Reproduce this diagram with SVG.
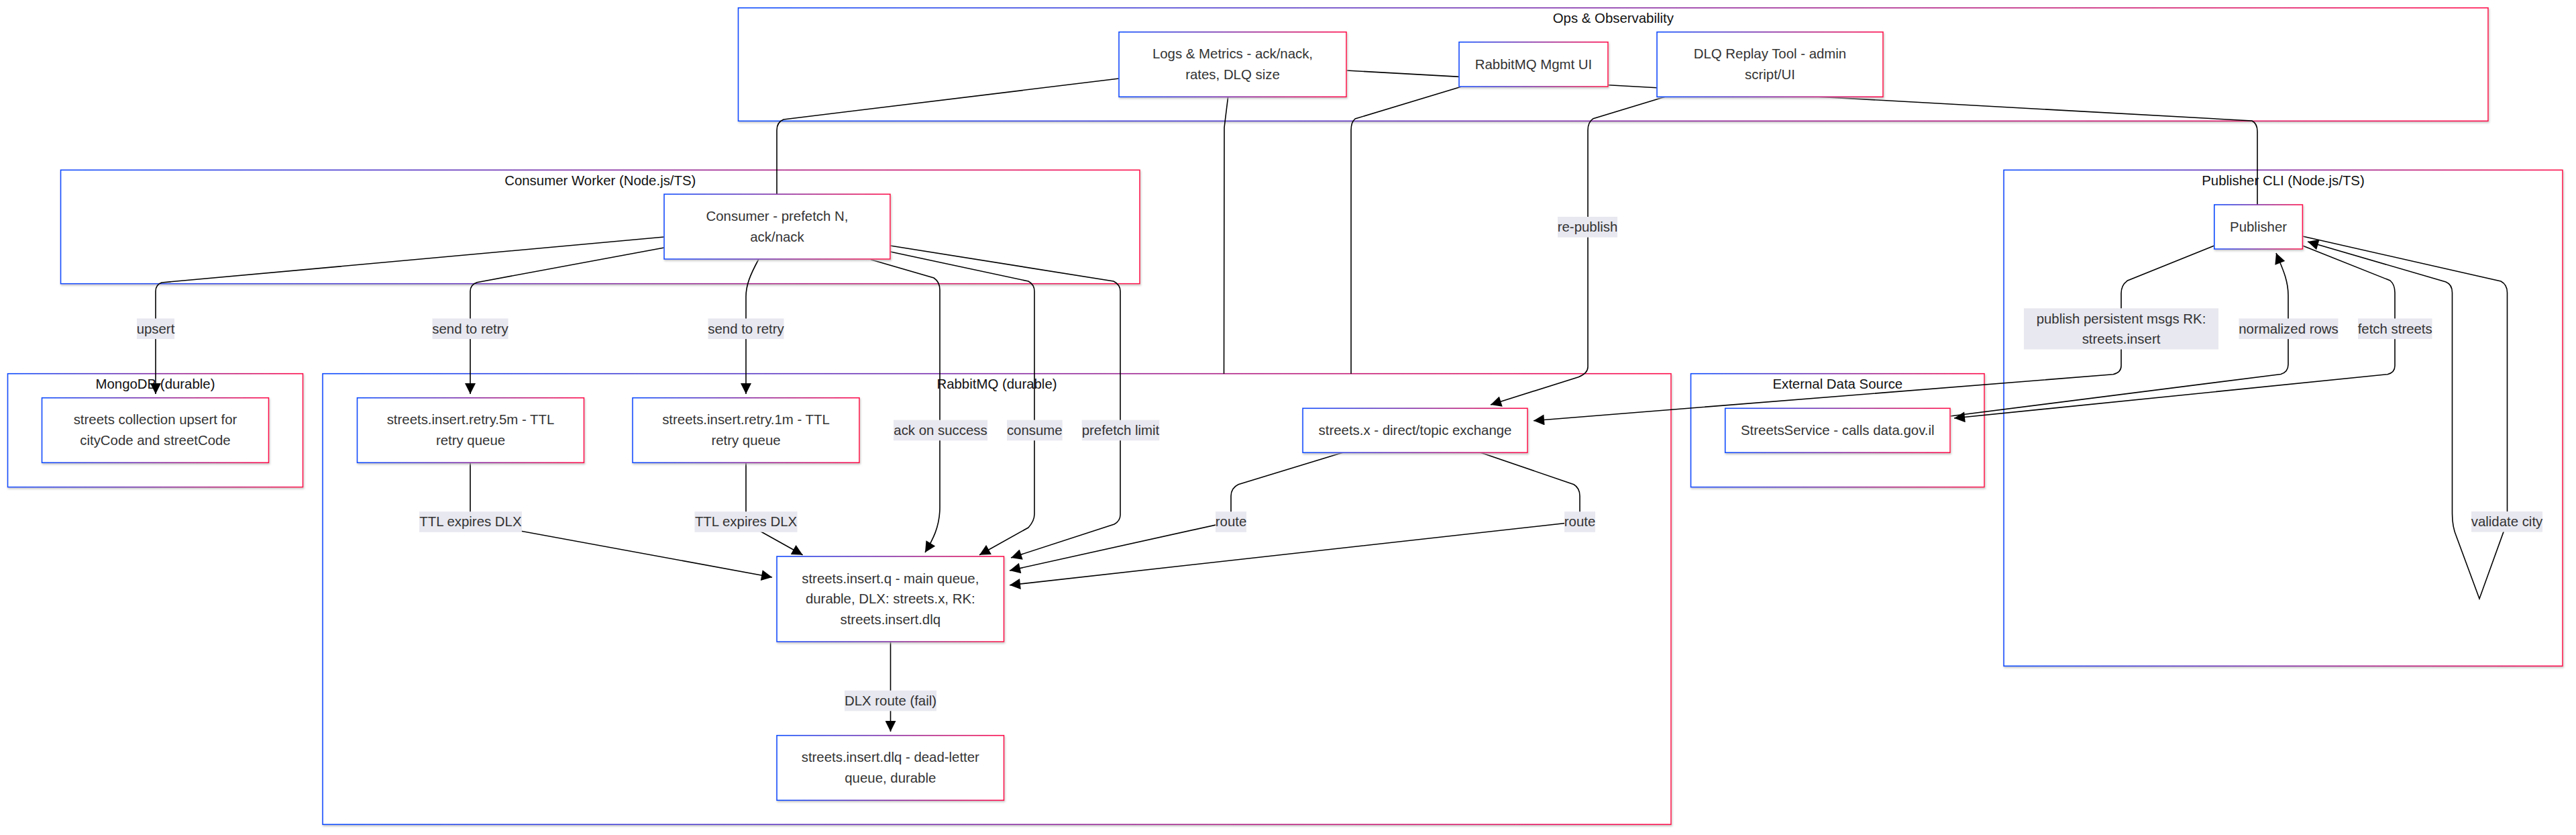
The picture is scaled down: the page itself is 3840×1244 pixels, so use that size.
<svg xmlns="http://www.w3.org/2000/svg" width="3840" height="1244" viewBox="0 0 3840 1244">
<defs>
<linearGradient id="g" x1="0" y1="0" x2="1" y2="0">
<stop offset="0" stop-color="#0a4cff"/>
<stop offset="1" stop-color="#ff0a4c"/>
</linearGradient>
<filter id="sh" x="-5%" y="-5%" width="110%" height="120%">
<feDropShadow dx="1" dy="2" stdDeviation="1.5" flood-color="#b9b9b9" flood-opacity="0.8"/>
</filter>
<marker id="ah" viewBox="0 0 10 10" refX="10" refY="5" markerUnits="userSpaceOnUse" markerWidth="17" markerHeight="16" orient="auto">
<path d="M0,0 L10,5 L0,10 z" fill="#000"/>
</marker>
<style>
text{font-family:"Liberation Sans",Arial,sans-serif;font-size:20.4px;text-anchor:middle}
.cluster rect{fill:#fff;stroke:url(#g);stroke-width:1.6;filter:url(#sh)}
.cluster text{fill:#111}
.node rect{fill:#fff;stroke:url(#g);stroke-width:1.6;filter:url(#sh)}
.node text{fill:#333}
.e{fill:none;stroke:#000;stroke-width:1.6}
.a{marker-end:url(#ah)}
.lbl rect{fill:#e8e8f0}
.lbl text{fill:#333}
</style>
</defs>

<g id="clusters">
<g id="cluster-ops" class="cluster"><rect x="1100.5" y="11.7" width="2608.5" height="168.6"/><text x="2404.8" y="34.4">Ops &amp; Observability</text></g>
<g id="cluster-consumer-worker" class="cluster"><rect x="90.5" y="253.3" width="1608.5" height="169.4"/><text x="894.8" y="276">Consumer Worker (Node.js/TS)</text></g>
<g id="cluster-mongodb" class="cluster"><rect x="11.5" y="556.7" width="440" height="169"/><text x="231.5" y="579.4">MongoDB (durable)</text></g>
<g id="cluster-rabbitmq" class="cluster"><rect x="481" y="556.7" width="2010" height="671.6"/><text x="1486" y="579.4">RabbitMQ (durable)</text></g>
<g id="cluster-external" class="cluster"><rect x="2520.5" y="556.7" width="437.5" height="169"/><text x="2739.3" y="579.4">External Data Source</text></g>
<g id="cluster-publisher-cli" class="cluster"><rect x="2987" y="253.3" width="833" height="739"/><text x="3403.5" y="276">Publisher CLI (Node.js/TS)</text></g>
</g>

<g id="connectors">
<path class="e a" d="M990,353 L241,421 Q232,424 232,434 L232,587"/>
<path class="e a" d="M990,369 L711,420.7 Q701,424 701,434 L701,587"/>
<path class="e a" d="M1131,386 C1118,410 1112,425 1112,442 L1112,587"/>
<path class="e a" d="M1298,386.7 L1392,414 Q1401,420 1401,432 L1401,756 C1401,785 1390,805 1379,823"/>
<path class="e a" d="M1327,375 L1533,419 Q1542,424 1542,434 L1542,766 Q1542,776 1533,786 L1460,826.7"/>
<path class="e a" d="M1327,366 L1660,419 Q1670,424 1670,434 L1670,767 Q1670,776 1661,781 L1507,831"/>
<path class="e a" d="M701,689.3 L701,765 Q701,777 713,779.5 L1151,860"/>
<path class="e a" d="M1112,689.3 L1112,772 Q1112,780 1120,784 L1196.6,826.7"/>
<path class="e a" d="M2001.7,674.3 L1846,721.7 Q1835,727 1835,739 L1835,777 L1505,850"/>
<path class="e a" d="M2207,674.3 L2346,721.7 Q2355,727 2355,739 L2355,777 L1505,871.7"/>
<path class="e a" d="M1327.5,956 L1327.5,1090"/>
<path class="e a" d="M3300.8,366 L3171,418.3 Q3162,425 3162,437 L3162,545 Q3162,555 3150,557.7 L2286,626.7"/>
<path class="e a" d="M2907,620 L3400,557.5 Q3411,554 3411,543 L3411,440 C3411,415 3400,395 3393,377"/>
<path class="e a" d="M3432.4,366 L3563,418 Q3570,424 3570,436 L3570,545 Q3570,555 3559,557.7 L2913,623"/>
<path class="e a" d="M3432.4,352 L3728,419 Q3737.5,424 3737.5,436 L3737.5,777 L3696,892 L3662,800 Q3655.5,785 3655.5,765 L3655.5,436 Q3655.5,424 3646,420 L3440,360"/>
<path class="e a" d="M2482,144.3 L2375,176.7 Q2367,182 2367,194 L2367,546.7 Q2367,556 2353,561.7 L2222,603"/>
<path class="e" d="M1668,117 L1168,178 Q1158,182 1158,194 L1158,289.3"/>
<path class="e" d="M1830.6,144.3 L1825,190 L1824.5,556.7"/>
<path class="e" d="M2178,129.3 L2020,177 Q2014,182 2014,194 L2014,556.7"/>
<path class="e" d="M2007,105 L3357,180 Q3365,184 3365,196 L3365,305"/>
</g>

<g id="edge-labels">
<g class="lbl"><rect x="204" y="474.5" width="56" height="30.6"/><text x="232" y="496.5">upsert</text></g>
<g class="lbl"><rect x="644.5" y="474.5" width="113" height="30.6"/><text x="701" y="496.5">send to retry</text></g>
<g class="lbl"><rect x="1055.5" y="474.5" width="113" height="30.6"/><text x="1112" y="496.5">send to retry</text></g>
<g class="lbl"><rect x="1332" y="625.7" width="140" height="30.6"/><text x="1402" y="647.7">ack on success</text></g>
<g class="lbl"><rect x="1501" y="625.7" width="82.7" height="30.6"/><text x="1542.3" y="647.7">consume</text></g>
<g class="lbl"><rect x="1612.7" y="625.7" width="115.6" height="30.6"/><text x="1670.5" y="647.7">prefetch limit</text></g>
<g class="lbl"><rect x="624.9" y="762.2" width="153" height="30.6"/><text x="701.4" y="784.2">TTL expires DLX</text></g>
<g class="lbl"><rect x="1035.5" y="762.2" width="153" height="30.6"/><text x="1112" y="784.2">TTL expires DLX</text></g>
<g class="lbl"><rect x="1812" y="762.2" width="46" height="30.6"/><text x="1835" y="784.2">route</text></g>
<g class="lbl"><rect x="2332" y="762.2" width="46" height="30.6"/><text x="2355" y="784.2">route</text></g>
<g class="lbl"><rect x="1259" y="1028.7" width="137" height="30.6"/><text x="1327.5" y="1050.7">DLX route (fail)</text></g>
<g class="lbl"><rect x="2322" y="323" width="89" height="30.6"/><text x="2366.5" y="345">re-publish</text></g>
<g class="lbl"><rect x="3017" y="459.3" width="290" height="61.2"/><text x="3162" y="481.5">publish persistent msgs RK:</text><text x="3162" y="512.1">streets.insert</text></g>
<g class="lbl"><rect x="3337.5" y="474.5" width="148" height="30.6"/><text x="3411.5" y="496.5">normalized rows</text></g>
<g class="lbl"><rect x="3515" y="474.5" width="110.5" height="30.6"/><text x="3570.2" y="496.5">fetch streets</text></g>
<g class="lbl"><rect x="3684" y="762" width="106" height="30.6"/><text x="3737" y="784">validate city</text></g>
</g>

<g id="nodes">
<g id="node-logs" class="node"><rect x="1668" y="47.7" width="339" height="96.6"/><text x="1837.5" y="87.4">Logs &amp; Metrics - ack/nack,</text><text x="1837.5" y="118">rates, DLQ size</text></g>
<g id="node-mgmt" class="node"><rect x="2175" y="62.7" width="222" height="66.3"/><text x="2286" y="102.6">RabbitMQ Mgmt UI</text></g>
<g id="node-dlq-replay" class="node"><rect x="2470" y="47.7" width="337" height="96.6"/><text x="2638.5" y="87.4">DLQ Replay Tool - admin</text><text x="2638.5" y="118">script/UI</text></g>
<g id="node-consumer" class="node"><rect x="990" y="289.3" width="337" height="96.7"/><text x="1158.5" y="329.1">Consumer - prefetch N,</text><text x="1158.5" y="359.7">ack/nack</text></g>
<g id="node-streets-collection" class="node"><rect x="62.5" y="592.7" width="338" height="96.6"/><text x="231.5" y="632.4">streets collection upsert for</text><text x="231.5" y="663">cityCode and streetCode</text></g>
<g id="node-retry-5m" class="node"><rect x="532.5" y="592.7" width="338" height="96.6"/><text x="701.5" y="632.4">streets.insert.retry.5m - TTL</text><text x="701.5" y="663">retry queue</text></g>
<g id="node-retry-1m" class="node"><rect x="943" y="592.7" width="338" height="96.6"/><text x="1112" y="632.4">streets.insert.retry.1m - TTL</text><text x="1112" y="663">retry queue</text></g>
<g id="node-exchange" class="node"><rect x="1942" y="608.3" width="335" height="66"/><text x="2109.5" y="648">streets.x - direct/topic exchange</text></g>
<g id="node-main-queue" class="node"><rect x="1158" y="829" width="338.5" height="127"/><text x="1327.3" y="868.6">streets.insert.q - main queue,</text><text x="1327.3" y="899.2">durable, DLX: streets.x, RK:</text><text x="1327.3" y="929.8">streets.insert.dlq</text></g>
<g id="node-dlq" class="node"><rect x="1158" y="1095.7" width="338.5" height="96.6"/><text x="1327.3" y="1135.4">streets.insert.dlq - dead-letter</text><text x="1327.3" y="1166">queue, durable</text></g>
<g id="node-streets-service" class="node"><rect x="2571.7" y="608.3" width="335.3" height="66"/><text x="2739.3" y="648">StreetsService - calls data.gov.il</text></g>
<g id="node-publisher" class="node"><rect x="3300.8" y="305" width="131.6" height="66"/><text x="3366.6" y="344.7">Publisher</text></g>
</g>
</svg>
